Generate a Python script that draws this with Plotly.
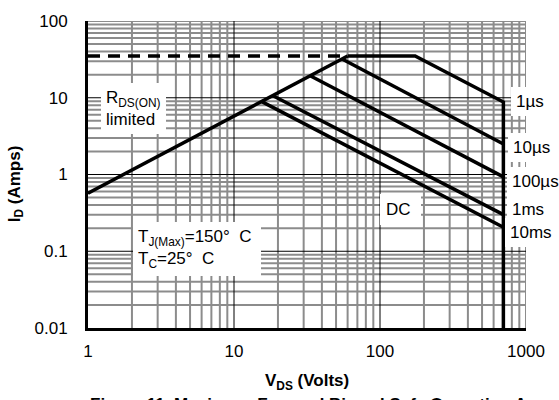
import plotly.graph_objects as go

# ---------------- data ----------------
rdson_v = [1, 60]
rdson_i = [0.57, 35]

dash_v = [1, 60]
dash_i = [35, 35]

us1_v = [60, 174, 700, 700]
us1_i = [35, 35, 8.8, 0.01]

us10_v = [55, 700]
us10_i = [32, 2.5]

us100_v = [33, 700]
us100_i = [19.5, 0.93]

ms1_v = [18.5, 700]
ms1_i = [10.6, 0.30]

ms10_v = [15.5, 700]
ms10_i = [8.9, 0.205]

curve_labels = ["1\u00b5s", "10\u00b5s", "100\u00b5s", "1ms", "10ms"]

x_tickvals = [1, 10, 100, 1000]
x_ticktext = ["1", "10", "100", "1000"]
y_tickvals = [0.01, 0.1, 1, 10, 100]
y_ticktext = ["0.01", "0.1", "1", "10", "100"]

# ---------------- layout geometry ----------------
W, H = 559, 400
L, R, T, B = 88, 526, 14, 328
FONT = "Arial, Liberation Sans, sans-serif"


def px(xp):
    return (xp - L) / (R - L)


def py(yp):
    return (B - yp) / (B - T)


fig = go.Figure()

line_style = dict(color="black", width=3.5)
fig.add_trace(go.Scatter(x=dash_v, y=dash_i, mode="lines",
                         line=dict(color="black", width=3.5, dash="12px,8px")))
fig.add_trace(go.Scatter(x=rdson_v, y=rdson_i, mode="lines", line=line_style))
for v, i in [(us1_v, us1_i), (us10_v, us10_i), (us100_v, us100_i),
             (ms1_v, ms1_i), (ms10_v, ms10_i)]:
    fig.add_trace(go.Scatter(x=v, y=i, mode="lines", line=line_style))

# ---------------- grid as shapes ----------------
shapes = []
grey = "#8c8c8c"
minor_mult = [2, 3, 4, 5, 6, 7, 8, 9]
for dec in [1, 10, 100]:
    for m in minor_mult:
        xv = dec * m
        shapes.append(dict(type="line", xref="x", yref="paper", x0=xv, x1=xv,
                           y0=0, y1=1, layer="below",
                           line=dict(color=grey, width=2)))
shapes.append(dict(type="line", xref="x", yref="paper", x0=1000, x1=1000,
                   y0=0, y1=1, layer="below", line=dict(color=grey, width=2)))
for dec in [0.01, 0.1, 1, 10]:
    for m in minor_mult:
        yv = dec * m
        shapes.append(dict(type="line", xref="paper", yref="y", x0=0, x1=1,
                           y0=yv, y1=yv, layer="below",
                           line=dict(color=grey, width=2)))
shapes.append(dict(type="line", xref="paper", yref="y", x0=0, x1=1,
                   y0=100, y1=100, layer="below", line=dict(color=grey, width=2)))
for xv in [10, 100]:
    shapes.append(dict(type="line", xref="x", yref="paper", x0=xv, x1=xv,
                       y0=0, y1=1, layer="below",
                       line=dict(color="black", width=1)))
for yv in [0.1, 1, 10]:
    shapes.append(dict(type="line", xref="paper", yref="y", x0=0, x1=1,
                       y0=yv, y1=yv, layer="below",
                       line=dict(color="black", width=1)))

# ---------------- annotations ----------------
ann = []
lab_font = dict(family=FONT, size=17, color="black")
label_pos = [(511, 96), (508, 143.5), (507, 178.5), (506.5, 207), (505, 230)]
for text, (xp, yp) in zip(curve_labels, label_pos):
    ann.append(dict(text=text, xref="paper", yref="paper", x=px(xp), y=py(yp),
                    xanchor="left", yanchor="middle", showarrow=False,
                    bgcolor="white", borderpad=5, borderwidth=0, font=lab_font,
                    align="left"))
ann.append(dict(text="DC ", xref="paper", yref="paper", x=px(380), y=py(207),
                xanchor="left", yanchor="middle", showarrow=False,
                bgcolor="white", borderpad=6, borderwidth=0, font=lab_font))
ann.append(dict(text="R<sub>DS(ON)</sub><br>limited", xref="paper", yref="paper",
                x=px(101), y=py(103), xanchor="left", yanchor="middle",
                showarrow=False, bgcolor="white", borderpad=5, borderwidth=0,
                font=lab_font, align="left"))
ann.append(dict(text="T<sub>J(Max)</sub>=150\u00b0  C <br>T<sub>C</sub>=25\u00b0  C",
                xref="paper", yref="paper", x=px(133), y=py(247),
                xanchor="left", yanchor="middle", showarrow=False,
                bgcolor="white", borderpad=5, borderwidth=0,
                font=lab_font, align="left"))
ann.append(dict(text="<b>V<sub>DS</sub> (Volts)</b>", xref="paper", yref="paper",
                x=px(307), y=py(383), xanchor="center", yanchor="middle",
                showarrow=False, font=dict(family=FONT, size=17, color="black")))
ann.append(dict(text="<b>I<sub>D</sub> (Amps)</b>", xref="paper", yref="paper",
                x=px(16), y=py(181), xanchor="center", yanchor="middle",
                textangle=-90, showarrow=False,
                font=dict(family=FONT, size=17, color="black")))
ann.append(dict(text="<b>Figure 11. Maximum Forward Biased Safe Operating Area</b>",
                xref="paper", yref="paper", x=px(88), y=py(406.5),
                xanchor="left", yanchor="middle", showarrow=False,
                font=dict(family=FONT, size=17, color="black")))

fig.update_layout(
    width=W, height=H,
    margin=dict(l=L, r=W - R, t=T, b=H - B, pad=0),
    paper_bgcolor="white", plot_bgcolor="white",
    showlegend=False,
    shapes=shapes, annotations=ann,
    font=dict(family=FONT, size=17, color="black"),
)
fig.update_xaxes(type="log", range=[0, 3], showgrid=False, zeroline=False,
                 tickvals=x_tickvals, ticktext=x_ticktext, ticks="",
                 showline=True, linecolor="black", linewidth=3,
                 ticklabelstandoff=6,
                 tickfont=dict(family=FONT, size=17, color="black"))
fig.update_yaxes(type="log", range=[-2, 2], showgrid=False, zeroline=False,
                 tickvals=y_tickvals, ticktext=y_ticktext, ticks="",
                 showline=True, linecolor="black", linewidth=3,
                 ticklabelstandoff=14,
                 tickfont=dict(family=FONT, size=17, color="black"))

fig.write_html("out.html")
